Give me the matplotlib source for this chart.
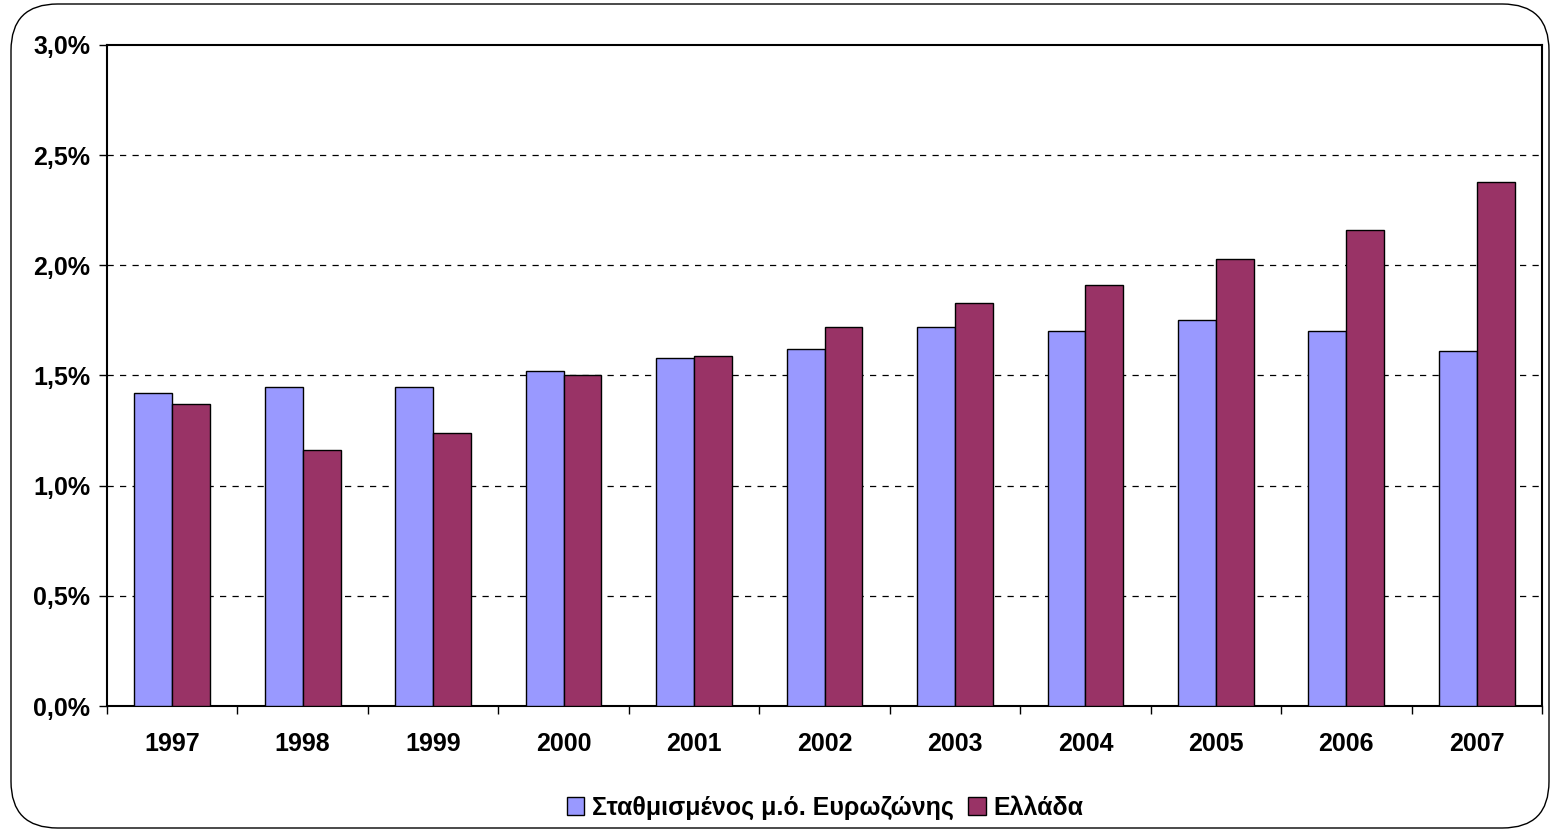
import matplotlib
matplotlib.use("Agg")
import matplotlib.pyplot as plt
from matplotlib.patches import FancyBboxPatch, Patch
from matplotlib.ticker import FuncFormatter, FixedLocator
import numpy as np

plt.rcParams['font.family'] = ['Liberation Sans', 'DejaVu Sans']
plt.rcParams['font.weight'] = 'bold'

years = ['1997', '1998', '1999', '2000', '2001', '2002', '2003', '2004', '2005', '2006', '2007']
eurozone = [1.42, 1.45, 1.45, 1.52, 1.58, 1.62, 1.72, 1.70, 1.75, 1.70, 1.61]
greece = [1.37, 1.16, 1.24, 1.50, 1.59, 1.72, 1.83, 1.91, 2.03, 2.16, 2.38]
series_names = ['Σταθμισμένος μ.ό. Ευρωζώνης', 'Ελλάδα']
colors = ['#9999FF', '#993366']

W, H = 1553, 833
fig = plt.figure(figsize=(W / 100, H / 100), dpi=100)

# rounded outer frame
frame = FancyBboxPatch((11 / W, 5 / H), (1549 - 11) / W, (829 - 5) / H,
                       boxstyle="round,pad=0,rounding_size=0.03",
                       transform=fig.transFigure, fill=False,
                       edgecolor='black', linewidth=1.0, mutation_aspect=W / H)
fig.patches.append(frame)

left, right, top, bottom = 107, 1542, 45, 706
ax = fig.add_axes([left / W, 1 - bottom / H, (right - left) / W, (bottom - top) / H])

x = np.arange(len(years))
bw = 0.29
ax.bar(x - bw / 2, eurozone, bw, color=colors[0], edgecolor='black', linewidth=1.0, zorder=3)
ax.bar(x + bw / 2, greece, bw, color=colors[1], edgecolor='black', linewidth=1.0, zorder=3)

ax.set_xlim(-0.5, len(years) - 0.5)
ax.set_ylim(0, 3.0)
ax.set_yticks(np.arange(0, 3.01, 0.5))
ax.yaxis.set_major_formatter(FuncFormatter(lambda v, p: f"{v:.1f}%".replace('.', ',')))
for yv in np.arange(0.5, 2.51, 0.5):
    ax.axhline(yv, color='black', linestyle=(0, (5, 5)), linewidth=0.9, zorder=1)

ax.set_xticks(x)
ax.set_xticklabels(years)
ax.xaxis.set_minor_locator(FixedLocator(np.arange(-0.5, len(years), 1.0)))
ax.tick_params(axis='x', which='major', length=0, pad=19, labelsize=18)
ax.tick_params(axis='x', which='minor', length=6, width=1, direction='out')
ax.tick_params(axis='y', length=6, width=1, direction='out', pad=6, labelsize=18)
for s in ax.spines.values():
    s.set_linewidth(1.5)

handles = [Patch(facecolor=c, edgecolor='black', linewidth=1.0) for c in colors]
fig.legend(handles, series_names, loc='center', bbox_to_anchor=(825 / W, 1 - 808 / H),
           ncol=2, frameon=False, fontsize=18, handlelength=0.7, handleheight=0.7,
           handletextpad=0.3, columnspacing=0.6)

fig.savefig('out.png', dpi=100)
